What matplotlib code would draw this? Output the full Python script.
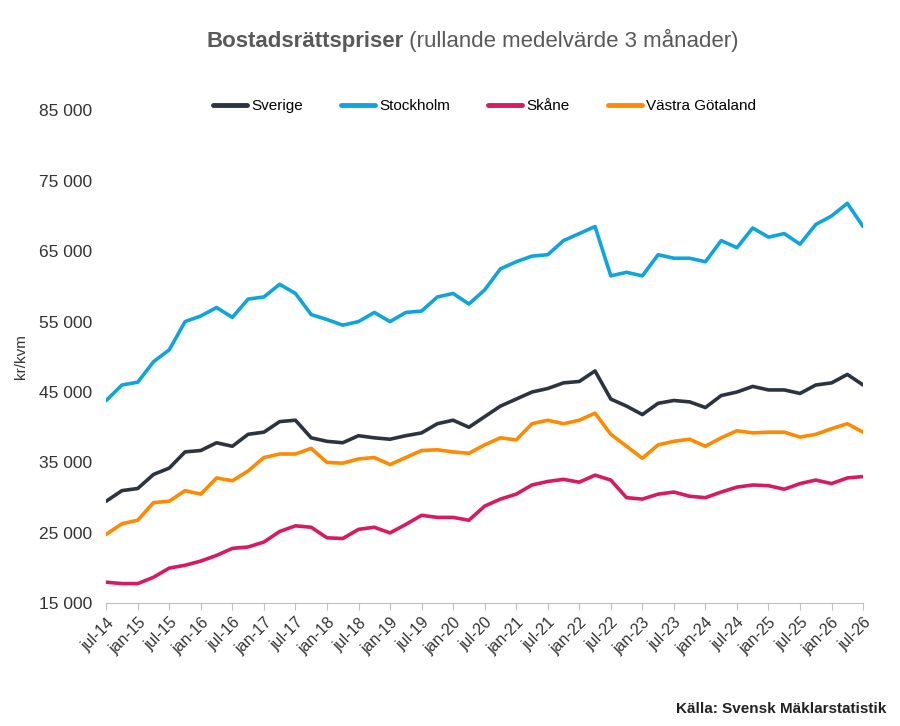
import matplotlib
matplotlib.use("Agg")
import matplotlib.pyplot as plt

plt.rcParams['font.family'] = ['Liberation Sans', 'DejaVu Sans']

# quarterly readings, jul-14 .. jul-26 (thousand kr/kvm)
sverige = [29.5, 31, 31.3, 33.3, 34.2, 36.5, 36.7, 37.8, 37.3, 39, 39.3, 40.8, 41, 38.5, 38, 37.8,
           38.8, 38.5, 38.3, 38.8, 39.2, 40.5, 41, 40, 41.5, 43, 44, 45, 45.5, 46.3, 46.5, 48, 44,
           43, 41.8, 43.4, 43.8, 43.6, 42.8, 44.5, 45, 45.8, 45.3, 45.3, 44.8, 46, 46.3, 47.5, 46]
stockholm = [43.8, 46, 46.4, 49.3, 51, 55, 55.8, 57, 55.6, 58.2, 58.5, 60.3, 59, 56, 55.3, 54.5,
             55, 56.3, 55, 56.3, 56.5, 58.5, 59, 57.5, 59.5, 62.5, 63.5, 64.3, 64.5, 66.5, 67.5, 68.5,
             61.5, 62, 61.5, 64.5, 64, 64, 63.5, 66.5, 65.5, 68.3, 67, 67.5, 66, 68.8, 70, 71.8, 68.5]
skane = [18, 17.8, 17.8, 18.7, 20, 20.4, 21, 21.8, 22.8, 23, 23.7, 25.2, 26, 25.8, 24.3, 24.2,
         25.5, 25.8, 25, 26.2, 27.5, 27.2, 27.2, 26.8, 28.8, 29.8, 30.5, 31.8, 32.3, 32.6, 32.2, 33.2,
         32.5, 30, 29.8, 30.5, 30.8, 30.2, 30, 30.8, 31.5, 31.8, 31.7, 31.2, 32, 32.5, 32, 32.8, 33]
vastra = [24.8, 26.3, 26.8, 29.3, 29.5, 31, 30.5, 32.8, 32.4, 33.8, 35.7, 36.2, 36.2, 37, 35, 34.9,
          35.5, 35.7, 34.7, 35.7, 36.7, 36.8, 36.5, 36.3, 37.5, 38.5, 38.2, 40.5, 41, 40.5, 41, 42,
          39, 37.3, 35.6, 37.5, 38, 38.3, 37.3, 38.5, 39.5, 39.2, 39.3, 39.3, 38.6, 39, 39.8, 40.5, 39.3]

series = [("Sverige", sverige, "#2b3440"), ("Stockholm", stockholm, "#0ea5dc"),
          ("Skåne", skane, "#d81b60"), ("Västra Götaland", vastra, "#ff8a00")]

tick_labels = []
for y in range(14, 27):
    tick_labels.append(f"jul-{y}")
    if y < 26:
        tick_labels.append(f"jan-{y+1}")

fig = plt.figure(figsize=(9, 7.26), dpi=100)
ax = fig.add_axes([0.118, 0.169, 0.841, 0.679])

for name, vals, col in series:
    months = [3 * i for i in range(len(vals))]
    ax.plot(months, [v * 1000 for v in vals], color=col, lw=2.6, label=name, solid_capstyle="round")

ax.set_xlim(0, 144)
ax.set_ylim(15000, 85000)
ax.set_xticks(range(0, 145, 6))
ax.set_xticklabels(tick_labels, rotation=45, ha="right", rotation_mode="anchor", fontsize=11.5, color="#333333")
ax.set_yticks(range(15000, 85001, 10000))
ax.set_yticklabels([f"{v//1000} 000" for v in range(15000, 85001, 10000)], fontsize=12.5, color="#333333")
ax.tick_params(axis="y", length=0, pad=10)
ax.tick_params(axis="x", color="#bfbfbf", length=5)
for s in ["top", "right", "left"]:
    ax.spines[s].set_visible(False)
ax.spines["bottom"].set_color("#bfbfbf")
ax.set_ylabel("kr/kvm", fontsize=11, color="#333333", labelpad=8)

leg = ax.legend(loc="upper center", bbox_to_anchor=(0.5, 1.05), ncol=4, frameon=False,
                fontsize=11, handlelength=2.2, columnspacing=2.5, handletextpad=0.3)
for h in leg.get_lines():
    h.set_linewidth(3.5)

# title: bold part + normal part, centred together
renderer = fig.canvas.get_renderer()
t1 = fig.text(0, 0.935, "Bostadsrättspriser", ha="left", fontsize=16, fontweight="bold", color="#595959")
t2 = fig.text(0, 0.935, " (rullande medelvärde 3 månader)", ha="left", fontsize=16, color="#595959")
w1 = t1.get_window_extent(renderer).width / fig.bbox.width
w2 = t2.get_window_extent(renderer).width / fig.bbox.width
start = 0.525 - (w1 + w2) / 2
t1.set_x(start)
t2.set_x(start + w1)

fig.text(0.985, 0.018, "Källa: Svensk Mäklarstatistik", ha="right", fontsize=11, fontweight="bold", color="#222222")

fig.savefig("out.png")
